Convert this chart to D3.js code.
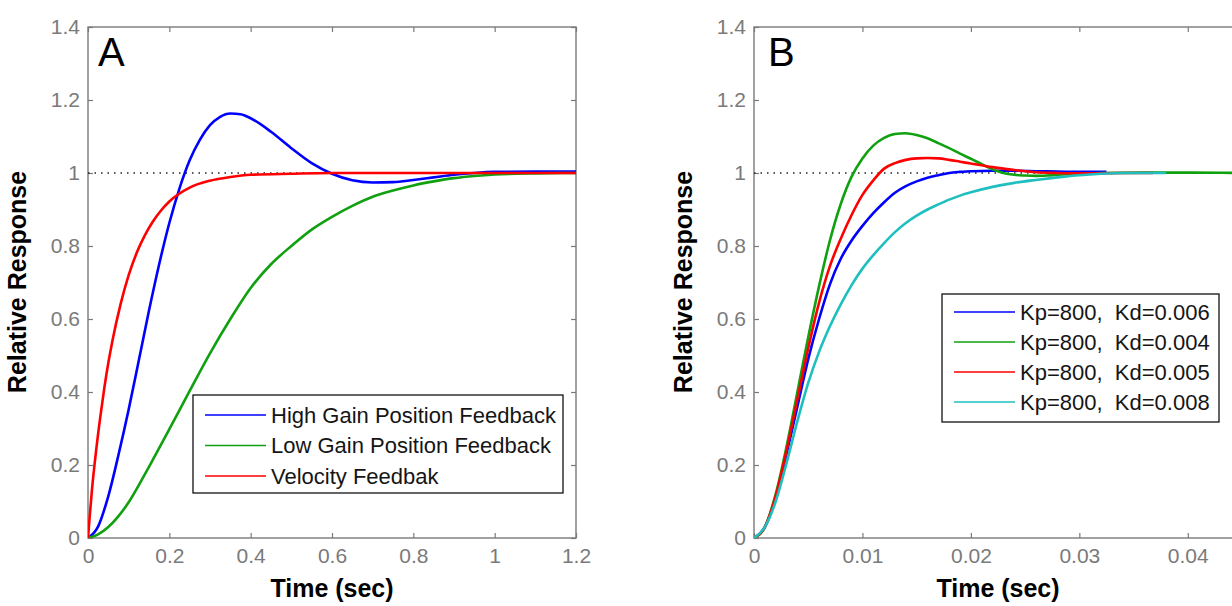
<!DOCTYPE html>
<html>
<head>
<meta charset="utf-8">
<script src="https://cdn.jsdelivr.net/npm/d3@7"></script>
<style>
  body { margin: 0; background: #fff; }
  svg { display: block; font-family: "Liberation Sans", Arial, sans-serif; }
  .tick text { fill: #7a7a7a; font-size: 21px; }
  .tick line { stroke: #7a7a7a; stroke-width: 1.2; }
  .domain { display: none; }
  .axis-title { font-size: 25px; font-weight: bold; fill: #000; }
  .legend text { font-size: 22px; fill: #151515; white-space: pre; }
</style>
</head>
<body>
<svg id="chart" width="1232" height="606"></svg>
<script>
// ---------- data: panel A ----------
const yTicks = [0, 0.2, 0.4, 0.6, 0.8, 1, 1.2, 1.4];
const xTicksA = [0, 0.2, 0.4, 0.6, 0.8, 1, 1.2];
const namesA = ['High Gain Position Feedback', 'Low Gain Position Feedback', 'Velocity Feedbak'];

const highGainT = [0, 0.025, 0.05, 0.075, 0.1, 0.125, 0.15, 0.175, 0.2, 0.225, 0.25, 0.275, 0.3, 0.325, 0.35, 0.375, 0.4, 0.45, 0.5, 0.55, 0.6, 0.65, 0.7, 0.75, 0.8, 0.85, 0.9, 0.95, 1.0, 1.1, 1.2];
const highGainV = [0, 0.032, 0.115, 0.228, 0.352, 0.487, 0.623, 0.750, 0.863, 0.958, 1.035, 1.091, 1.131, 1.154, 1.163, 1.161, 1.150, 1.113, 1.068, 1.027, 0.998, 0.980, 0.974, 0.975, 0.981, 0.988, 0.995, 1.000, 1.003, 1.004, 1.004];

const lowGainT = [0, 0.025, 0.05, 0.075, 0.1, 0.125, 0.15, 0.2, 0.25, 0.3, 0.35, 0.4, 0.45, 0.5, 0.55, 0.6, 0.65, 0.7, 0.75, 0.8, 0.85, 0.9, 0.95, 1.0, 1.1, 1.2];
const lowGainV = [0, 0.01, 0.03, 0.06, 0.098, 0.145, 0.195, 0.298, 0.403, 0.506, 0.60, 0.685, 0.75, 0.80, 0.845, 0.88, 0.91, 0.935, 0.952, 0.966, 0.977, 0.986, 0.992, 0.996, 0.999, 1.0];

const velocityT = [0, 0.005, 0.01, 0.02, 0.03, 0.04, 0.05, 0.06, 0.08, 0.1, 0.12, 0.14, 0.16, 0.18, 0.2, 0.25, 0.3, 0.35, 0.4, 0.5, 0.6, 0.8, 1.0, 1.2];
const velocityV = [0, 0.07, 0.135, 0.24, 0.33, 0.41, 0.48, 0.54, 0.64, 0.72, 0.782, 0.83, 0.868, 0.898, 0.922, 0.96, 0.979, 0.989, 0.995, 0.998, 1.0, 1.0, 1.0, 1.0];

// ---------- data: panel B ----------
const xTicksB = [0, 0.01, 0.02, 0.03, 0.04];
const namesB = ['Kp=800,  Kd=0.006', 'Kp=800,  Kd=0.004', 'Kp=800,  Kd=0.005', 'Kp=800,  Kd=0.008'];

const kd006T = [0, 0.001, 0.002, 0.003, 0.004, 0.005, 0.006, 0.007, 0.008, 0.009, 0.010, 0.011, 0.012, 0.013, 0.014, 0.015, 0.016, 0.017, 0.018, 0.019, 0.020, 0.022, 0.024, 0.026, 0.028, 0.030, 0.0325];
const kd006V = [0, 0.03, 0.11, 0.23, 0.36, 0.49, 0.60, 0.695, 0.765, 0.815, 0.855, 0.89, 0.92, 0.946, 0.964, 0.977, 0.987, 0.994, 1.0, 1.003, 1.005, 1.006, 1.006, 1.005, 1.004, 1.003, 1.003];

const kd004T = [0, 0.001, 0.002, 0.003, 0.004, 0.005, 0.006, 0.007, 0.008, 0.009, 0.010, 0.011, 0.012, 0.013, 0.014, 0.015, 0.016, 0.017, 0.018, 0.019, 0.020, 0.021, 0.022, 0.023, 0.024, 0.025, 0.026, 0.027, 0.028, 0.030, 0.032, 0.036, 0.040, 0.046];
const kd004V = [0, 0.03, 0.12, 0.25, 0.40, 0.55, 0.69, 0.815, 0.915, 0.99, 1.04, 1.075, 1.096, 1.107, 1.109, 1.104, 1.095, 1.082, 1.068, 1.053, 1.039, 1.024, 1.010, 1.0, 0.995, 0.993, 0.992, 0.993, 0.995, 0.998, 1.0, 1.001, 1.001, 1.0];

const kd005T = [0, 0.001, 0.002, 0.003, 0.004, 0.005, 0.006, 0.007, 0.008, 0.009, 0.010, 0.011, 0.012, 0.013, 0.014, 0.015, 0.016, 0.017, 0.018, 0.019, 0.020, 0.021, 0.022, 0.023, 0.024, 0.025, 0.026, 0.028, 0.030, 0.034, 0.0368];
const kd005V = [0, 0.03, 0.115, 0.24, 0.38, 0.52, 0.645, 0.745, 0.82, 0.885, 0.94, 0.98, 1.012, 1.027, 1.036, 1.040, 1.041, 1.040, 1.036, 1.031, 1.026, 1.021, 1.016, 1.012, 1.008, 1.005, 1.002, 1.0, 0.999, 1.0, 1.0];

const kd008T = [0, 0.001, 0.002, 0.003, 0.004, 0.005, 0.006, 0.007, 0.008, 0.009, 0.010, 0.011, 0.012, 0.013, 0.014, 0.015, 0.016, 0.017, 0.018, 0.019, 0.020, 0.022, 0.024, 0.026, 0.028, 0.030, 0.032, 0.034, 0.038];
const kd008V = [0, 0.03, 0.10, 0.205, 0.32, 0.425, 0.51, 0.58, 0.64, 0.693, 0.738, 0.775, 0.808, 0.838, 0.863, 0.883, 0.90, 0.914, 0.927, 0.938, 0.947, 0.962, 0.973, 0.981, 0.988, 0.994, 0.998, 1.0, 1.0];

const BLUE = '#0000ff', GREEN = '#10a010', RED = '#ff0000', CYAN = '#1fbfbf';

const zip = (t, v) => t.map((x, i) => ({ t: x, v: v[i] }));

const svg = d3.select('#chart');
svg.append('rect').attr('width', 1232).attr('height', 606).attr('fill', '#fff');

function drawPanel(p) {
  const x = d3.scaleLinear().domain([0, p.xMax]).range([p.left, p.left + 488]);
  const y = d3.scaleLinear().domain([0, 1.4]).range([538, 27]);
  const g = svg.append('g');

  const clipId = 'clip' + p.letter;
  g.append('clipPath').attr('id', clipId).append('rect')
    .attr('x', p.left).attr('y', 27).attr('width', 488).attr('height', 511);

  // axes, ticks inside on all four sides
  g.append('g').attr('transform', 'translate(0,538)')
    .call(d3.axisBottom(x).tickValues(p.xTicks).tickFormat(d => String(d)).tickSize(-5).tickPadding(10));
  g.append('g').attr('transform', 'translate(0,27)')
    .call(d3.axisTop(x).tickValues(p.xTicks).tickFormat('').tickSize(-5));
  g.append('g').attr('transform', `translate(${p.left},0)`)
    .call(d3.axisLeft(y).tickValues(yTicks).tickFormat(d => String(d)).tickSize(-5).tickPadding(8));
  g.append('g').attr('transform', `translate(${p.left + 488},0)`)
    .call(d3.axisRight(y).tickValues(yTicks).tickFormat('').tickSize(-5));

  g.append('rect').attr('x', p.left).attr('y', 27).attr('width', 488).attr('height', 511)
    .attr('fill', 'none').attr('stroke', '#7a7a7a').attr('stroke-width', 1.4);

  // reference line at 1
  g.append('line').attr('x1', x(0)).attr('x2', x(p.xMax)).attr('y1', y(1)).attr('y2', y(1))
    .attr('stroke', '#222').attr('stroke-width', 1.3).attr('stroke-dasharray', '1.5,5');

  const line = d3.line().x(d => x(d.t)).y(d => y(d.v)).curve(d3.curveMonotoneX);
  const plot = g.append('g').attr('clip-path', `url(#${clipId})`);
  p.series.forEach(s => {
    plot.append('path').datum(s.data).attr('d', line)
      .attr('fill', 'none').attr('stroke', s.color).attr('stroke-width', 2.6)
      .attr('stroke-linejoin', 'round');
  });

  // panel letter
  g.append('text').attr('x', p.left + p.letterDx).attr('y', 66)
    .attr('font-size', 40).attr('fill', '#000').text(p.letter);

  // axis titles
  g.append('text').attr('class', 'axis-title').attr('text-anchor', 'middle')
    .attr('x', p.left + 244).attr('y', 597).text('Time (sec)');
  g.append('text').attr('class', 'axis-title').attr('text-anchor', 'middle')
    .attr('transform', `translate(${p.left - 62},282) rotate(-90)`).text('Relative Response');

  // legend
  const L = p.legend;
  const lg = g.append('g').attr('class', 'legend');
  lg.append('rect').attr('x', L.x).attr('y', L.y).attr('width', L.w).attr('height', L.h)
    .attr('fill', '#fff').attr('stroke', '#111').attr('stroke-width', 1.3);
  p.series.forEach((s, i) => {
    const cy = L.y + L.firstRow + i * L.rowGap;
    lg.append('line').attr('x1', L.x + 12).attr('x2', L.x + 73).attr('y1', cy).attr('y2', cy)
      .attr('stroke', s.color).attr('stroke-width', 1.6);
    lg.append('text').attr('x', L.x + 78).attr('y', cy).attr('dy', '0.36em').text(s.name);
  });
}

drawPanel({
  letter: 'A', letterDx: 10, left: 88, xMax: 1.2, xTicks: xTicksA,
  legend: { x: 193, y: 395, w: 370, h: 98, firstRow: 20, rowGap: 30.5 },
  series: [
    { name: namesA[0], color: BLUE, data: zip(highGainT, highGainV) },
    { name: namesA[1], color: GREEN, data: zip(lowGainT, lowGainV) },
    { name: namesA[2], color: RED, data: zip(velocityT, velocityV) }
  ]
});

drawPanel({
  letter: 'B', letterDx: 14, left: 754, xMax: 0.045, xTicks: xTicksB,
  legend: { x: 942, y: 294, w: 277, h: 128, firstRow: 18, rowGap: 30 },
  series: [
    { name: namesB[0], color: BLUE, data: zip(kd006T, kd006V) },
    { name: namesB[1], color: GREEN, data: zip(kd004T, kd004V) },
    { name: namesB[2], color: RED, data: zip(kd005T, kd005V) },
    { name: namesB[3], color: CYAN, data: zip(kd008T, kd008V) }
  ]
});
</script>
</body>
</html>
